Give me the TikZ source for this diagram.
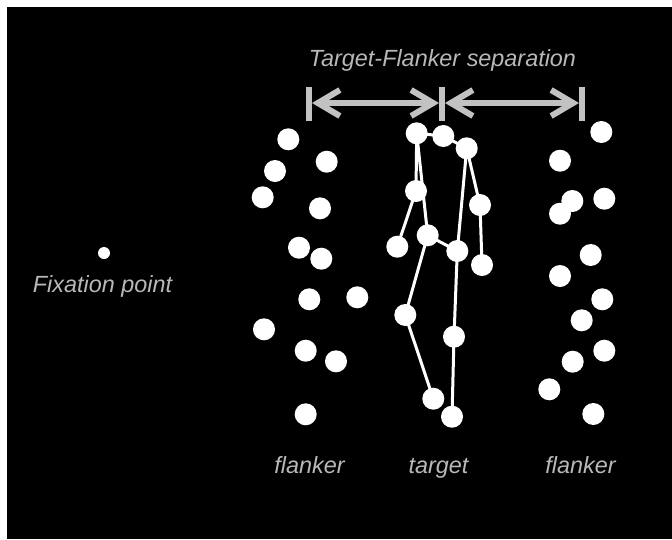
\documentclass[tikz,border=0pt]{standalone}
\usepackage{fontspec}
\setmainfont{Liberation Sans}
\usetikzlibrary{arrows.meta}
\definecolor{lbl}{gray}{0.72}
\definecolor{arr}{gray}{0.76}
\tikzset{
  dot/.style={circle,fill=white,inner sep=0pt,minimum size=22pt},
  fixdot/.style={circle,fill=white,inner sep=0pt,minimum size=12pt},
  lbltext/.style={text=lbl,font=\fontsize{23.4}{28}\selectfont\itshape,inner sep=0pt,anchor=base},
  limb/.style={white,line width=3pt},
  bar/.style={arr,line width=6pt},
  sep/.style={arr,line width=6pt,{Straight Barb[length=22pt,width=26pt]}-{Straight Barb[length=22pt,width=26pt]}}
}
\begin{document}
\begin{tikzpicture}[x=1pt,y=-1pt]
\useasboundingbox (0,0) rectangle (672,539);
\fill[white] (0,0) rectangle (672,539);
\fill[black] (7,7) rectangle (672,539);

% title and separation arrows
\node[lbltext] (title) at (442.5,66.7) {Target-Flanker separation};
\coordinate (LT) at (309,87); \coordinate (LB) at (309,121);
\coordinate (MT) at (442,87); \coordinate (MB) at (442,121);
\coordinate (RT) at (582,87); \coordinate (RB) at (582,121);
\draw[bar] (LT) -- (LB);
\draw[bar] (MT) -- (MB);
\draw[bar] (RT) -- (RB);
\coordinate (La) at (312,103);
\coordinate (Ma) at (439,103);
\coordinate (Mb) at (445,103);
\coordinate (Ra) at (579,103);
\draw[sep] (La) -- (Ma);
\draw[sep] (Mb) -- (Ra);

% fixation
\node[fixdot] (fix) at (104,253) {};
\node[lbltext] (fixlbl) at (102.5,292.7) {Fixation point};

% left flanker
\foreach \x/\y [count=\i] in {288.3/139.3,326.7/161.7,275/171,262.7/197.3,320/208.3,299/247.7,321.3/258.7,309.3/299.3,357.3/297.3,264/329.3,305.7/350.7,336/361.3,305.7/414.3}
  \node[dot] (lf\i) at (\x,\y) {};

% right flanker
\foreach \x/\y [count=\i] in {601.3/132,560/160.7,572.3/201,604.3/198.7,560/213.7,590.7/255,560/276,602.3/299.3,581.7/320.3,604.3/350.7,572.7/361.7,549.3/389.3,593.3/414}
  \node[dot] (rf\i) at (\x,\y) {};

% target (point-light walker)
\node[dot] (A) at (416.7,133.3) {};
\node[dot] (B) at (443.3,136) {};
\node[dot] (C) at (466.7,148.3) {};
\node[dot] (D) at (416,191) {};
\node[dot] (E) at (480,205) {};
\node[dot] (F) at (397.3,246.7) {};
\node[dot] (G) at (427.7,235.3) {};
\node[dot] (H) at (457.3,251) {};
\node[dot] (I) at (482,265) {};
\node[dot] (J) at (405.3,315) {};
\node[dot] (K) at (454,336.7) {};
\node[dot] (L) at (433.3,398.7) {};
\node[dot] (M) at (452,416.7) {};
\begin{scope}[on background layer/.style={}]
\draw[limb] (A.center) -- (B.center) -- (C.center);
\draw[limb] (A.center) -- (D.center) -- (F.center);
\draw[limb] (A.center) -- (G.center);
\draw[limb] (C.center) -- (E.center) -- (I.center);
\draw[limb] (C.center) -- (H.center);
\draw[limb] (G.center) -- (H.center);
\draw[limb] (G.center) -- (J.center) -- (L.center);
\draw[limb] (H.center) -- (K.center) -- (M.center);
\end{scope}

% labels
\node[lbltext] (fl) at (309.5,473.3) {flanker};
\node[lbltext] (tg) at (438.5,473.3) {target};
\node[lbltext] (fr) at (580.5,473.3) {flanker};
\end{tikzpicture}
\end{document}
